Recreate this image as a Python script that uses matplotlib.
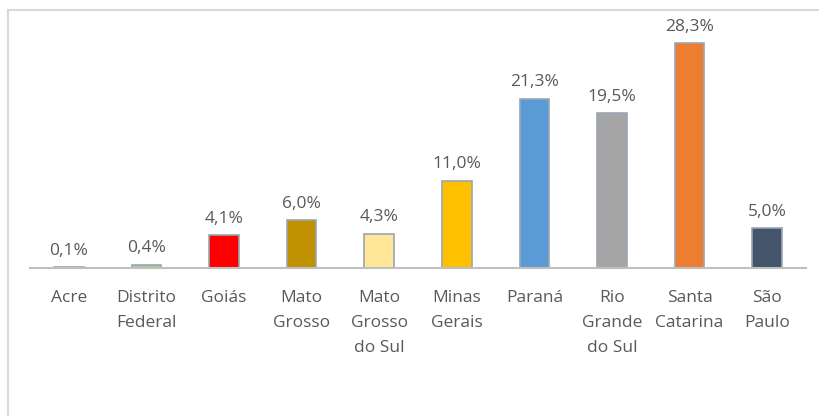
import matplotlib.pyplot as plt
from matplotlib.lines import Line2D

# data
estados = ["Acre", "Distrito\nFederal", "Goiás", "Mato\nGrosso", "Mato\nGrosso\ndo Sul",
           "Minas\nGerais", "Paraná", "Rio\nGrande\ndo Sul", "Santa\nCatarina", "São\nPaulo"]
valores = [0.1, 0.4, 4.1, 6.0, 4.3, 11.0, 21.3, 19.5, 28.3, 5.0]
cores = ["#70AD47", "#A9D08E", "#FF0000", "#BF9000", "#FFE699",
         "#FFC000", "#5B9BD5", "#A5A5A5", "#ED7D31", "#44546A"]

plt.rcParams['font.family'] = ['Open Sans', 'DejaVu Sans']

fig = plt.figure(figsize=(8.2, 4.16), dpi=100)
W, H = 820, 416
ax = fig.add_axes([30 / W, 1 - 268 / H, 776 / W, 238.5 / H])

x = range(len(estados))
bars = ax.bar(x, valores, width=0.38, color=cores, edgecolor="#9AA6B4", linewidth=1.2, zorder=2)

for b, v in zip(bars, valores):
    ax.annotate(("%.1f%%" % v).replace(".", ","), (b.get_x() + b.get_width() / 2, v),
                xytext=(0, 6), textcoords="offset points", ha="center", va="bottom",
                fontsize=12.5, color="#595959")

ax.set_xlim(-0.5, len(estados) - 0.5)
ax.set_ylim(0, 30)
ax.set_xticks(list(x))
ax.set_xticklabels(estados, fontsize=12.5, color="#595959", linespacing=1.72)
ax.tick_params(axis="x", length=0, pad=16)
ax.set_yticks([])
for s in ["top", "right", "left"]:
    ax.spines[s].set_visible(False)
ax.spines["bottom"].set_color("#BFBFBF")
ax.spines["bottom"].set_linewidth(1.5)

# chart frame (left and top edges)
fig.add_artist(Line2D([8 / W, 8 / W], [0, 1 - 10 / H], color="#D9D9D9", lw=1.5))
fig.add_artist(Line2D([8 / W, 1], [1 - 10 / H, 1 - 10 / H], color="#D9D9D9", lw=1.5))

fig.savefig("out.png", dpi=100)
